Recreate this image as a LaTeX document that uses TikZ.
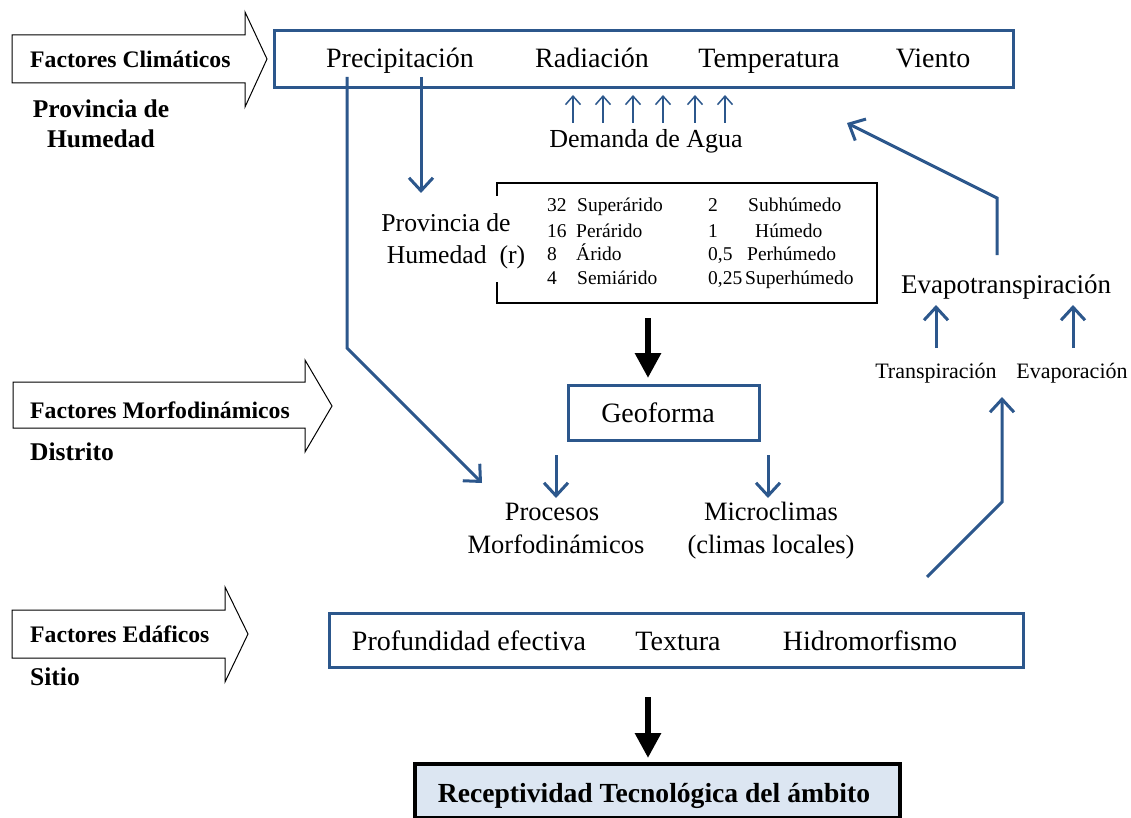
\documentclass[tikz,border=0pt]{standalone}
\usepackage{fontspec}
\setmainfont{Liberation Serif}
\usetikzlibrary{arrows.meta}
\definecolor{lineblue}{RGB}{44,87,140}
\definecolor{resfill}{RGB}{220,230,242}
\newcommand\fsz[1]{\fontsize{#1}{#1}\selectfont}
\begin{document}
\begin{tikzpicture}[x=1pt,y=-1pt,
  factor/.style={draw=black,line width=1pt,fill=white,line join=miter},
  bluebox/.style={draw=lineblue,line width=3pt,inner sep=0pt,anchor=north west},
  flow/.style={draw=lineblue,line width=3pt,line join=miter,
    -{Straight Barb[length=13pt,width=24pt,line width=3pt]}},
  demand/.style={draw=lineblue,line width=1.5pt,
    -{Straight Barb[length=8.5pt,width=15pt,line width=1.5pt]}},
  heavy/.style={draw=black,line width=6pt,-{Triangle[length=25pt,width=25pt]}},
  txt/.style={inner sep=0pt,anchor=base},
  big/.style={txt,font=\fsz{28}},
  mid/.style={txt,font=\fsz{26.5}},
  small/.style={txt,font=\fsz{22}},
  tab/.style={inner sep=0pt,anchor=base west,font=\fsz{19.5}},
  head/.style={inner sep=0pt,anchor=base west,font=\bfseries\fsz{23.7}},
  sub/.style={inner sep=0pt,font=\bfseries\fsz{25.5}},
]
\useasboundingbox (0,0) rectangle (1131,818);
\fill[white] (0,0) rectangle (1131,818);

% ---------- outlined factor arrows ----------
\draw[factor] (12,35) -- (245,35) -- (245,12) -- (267,59) -- (245,107) -- (245,83) -- (12,83) -- cycle;
\draw[factor] (13,382) -- (305,382) -- (305,360) -- (332,406) -- (305,452) -- (305,428) -- (13,428) -- cycle;
\draw[factor] (12,610) -- (225,610) -- (225,587) -- (248,634) -- (225,682) -- (225,658) -- (12,658) -- cycle;

\node[head] (fclim) at (30,68) {Factores Climáticos};
\node[sub,anchor=base] (phum) at (101,118) {Provincia de};
\node[sub,anchor=base] (phum2) at (101,148) {Humedad};
\node[head] (fmorf) at (30,418) {Factores Morfodinámicos};
\node[sub,anchor=base west] (dist) at (30,460) {Distrito};
\node[head] (fedaf) at (30,642) {Factores Edáficos};
\node[sub,anchor=base west] (sitio) at (30,685) {Sitio};

% ---------- climatic factors ----------
\node[bluebox,minimum width=739pt,minimum height=57pt] (clima) at (273,29) {};
\node[big] (prec) at (400,68) {Precipitación};
\node[big] (rad) at (592,68) {Radiación};
\node[big] (temp) at (769,68) {Temperatura};
\node[big] (viento) at (933,68) {Viento};

% water demand
\foreach \x [count=\i] in {573,603,633,663,695,725}{
  \coordinate (d\i a) at (\x,123);
  \coordinate (d\i b) at (\x,95);
  \draw[demand] (d\i a) -- (d\i b);
}
\node[mid,font=\fsz{26}] (demanda) at (646,148) {Demanda de Agua};

% ---------- humidity province ----------
\node[txt,font=\fsz{25.7}] (prov1) at (446,232) {Provincia de};
\node[txt,font=\fsz{25.7}] (prov2) at (456,263) {Humedad\ \ (r)};
\draw[black,line width=1.5pt] (497,196) -- (497,183) -- (877,183) -- (877,303) -- (497,303) -- (497,282);

\node[tab] at (547,212) {32};
\node[tab] at (577,212) {Superárido};
\node[tab] at (547,237) {16};
\node[tab] at (576,237) {Perárido};
\node[tab] at (547,260) {8};
\node[tab] at (576,260) {Árido};
\node[tab] at (547,284) {4};
\node[tab] at (577,284) {Semiárido};
\node[tab] at (708,212) {2};
\node[tab] at (748,212) {Subhúmedo};
\node[tab] at (708,237) {1};
\node[tab] at (755,237) {Húmedo};
\node[tab] at (708,260) {0,5};
\node[tab] at (747,260) {Perhúmedo};
\node[tab] at (708,284) {0,25};
\node[tab] at (745,284) {Superhúmedo};

% ---------- landform ----------
\node[bluebox,minimum width=191pt,minimum height=55pt] (geo) at (567,384) {};
\node[big] (geot) at (658,422) {Geoforma};
\node[mid] (proc1) at (552,520) {Procesos};
\node[mid] (proc2) at (556,553) {Morfodinámicos};
\node[mid] (micro1) at (771,520) {Microclimas};
\node[mid] (micro2) at (771,553) {(climas locales)};

% ---------- evapotranspiration ----------
\node[txt,font=\fsz{27}] (evt) at (1006,293) {Evapotranspiración};
\node[small] (transp) at (936,378) {Transpiración};
\node[small] (evap) at (1072,378) {Evaporación};

% ---------- soil factors ----------
\node[bluebox,minimum width=694pt,minimum height=54pt] (suelo) at (328,612) {};
\node[big] (prof) at (469,650) {Profundidad efectiva};
\node[big] (text) at (678,650) {Textura};
\node[big] (hidro) at (870,650) {Hidromorfismo};

% ---------- result ----------
\node[draw=black,line width=3.5pt,fill=resfill,inner sep=0pt,anchor=north west,
      minimum width=485pt,minimum height=54pt] (recep) at (413,762) {};
\node[txt,font=\bfseries\fsz{27.6}] (rect) at (654,802) {Receptividad Tecnológica del ámbito};

% ---------- connectors ----------
\coordinate (pa) at (347,77);
\coordinate (pb) at (347,348);
\coordinate (pc) at (482,483);
\draw[flow] (pa) -- (pb) -- (pc);

\coordinate (qa) at (421,77);
\coordinate (qb) at (421,193);
\draw[flow] (qa) -- (qb);

\coordinate (ea) at (997,255);
\coordinate (eb) at (997,198);
\coordinate (ec) at (847,123);
\draw[flow] (ea) -- (eb) -- (ec);

\coordinate (sa) at (927,577);
\coordinate (sb) at (1002,502);
\coordinate (sc) at (1002,397);
\draw[flow] (sa) -- (sb) -- (sc);

\coordinate (ta) at (936,348);
\coordinate (tb) at (936,305);
\draw[flow] (ta) -- (tb);
\coordinate (va) at (1073,348);
\coordinate (vb) at (1073,305);
\draw[flow] (va) -- (vb);

\coordinate (ga) at (556,455);
\coordinate (gb) at (556,498);
\draw[flow] (ga) -- (gb);
\coordinate (ma) at (768,455);
\coordinate (mb) at (768,498);
\draw[flow] (ma) -- (mb);

\coordinate (ka) at (648,318);
\coordinate (kb) at (648,378);
\draw[heavy] (ka) -- (kb);
\coordinate (ra) at (648,697);
\coordinate (rb) at (648,758);
\draw[heavy] (ra) -- (rb);
\end{tikzpicture}
\end{document}
